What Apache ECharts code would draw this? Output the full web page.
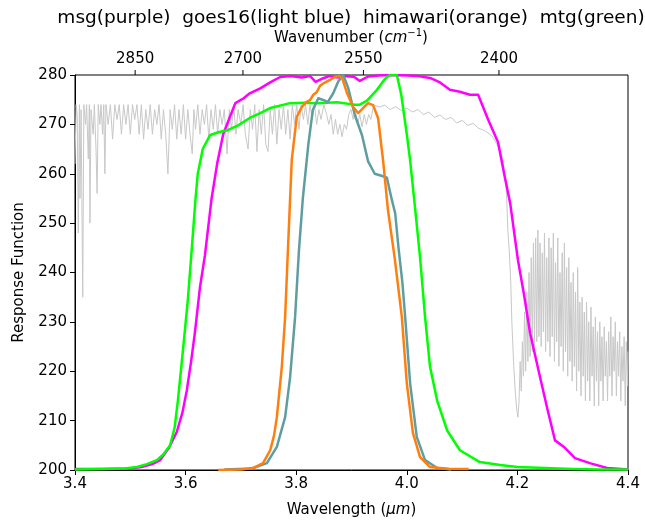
<!DOCTYPE html>
<html><head><meta charset="utf-8">
<script src="https://cdn.jsdelivr.net/npm/echarts@6/dist/echarts.min.js"></script>
<style>html,body{margin:0;padding:0;background:#fff}#c{width:645px;height:524px}</style>
</head><body><div id="c"></div>
<script>
const xTicksMin = 3.4, xTicksMax = 4.4, xInterval = 0.2;
const yMin = 200, yMax = 280, yInterval = 10;
const wavenumberTicks = [2850, 2700, 2550, 2400];
const titleText = 'msg(purple)  goes16(light blue)  himawari(orange)  mtg(green)';

// msg (purple)
const msg = [[3.40,200.2],[3.45,200.2],[3.50,200.3],[3.52,200.6],[3.54,201.2],[3.554,202],[3.57,204.5],[3.584,207.7],[3.594,211.5],[3.602,216],[3.61,222],[3.617,228],[3.626,237],[3.635,243.5],[3.647,255],[3.657,262],[3.668,268],[3.680,271.5],[3.690,274.3],[3.705,275.3],[3.716,276.3],[3.735,277.3],[3.753,278.5],[3.771,279.6],[3.79,279.8],[3.81,279.5],[3.825,279.8],[3.835,278.6],[3.848,279.3],[3.86,279.8],[3.875,279.5],[3.89,279.8],[3.905,279.6],[3.915,278.8],[3.93,279.7],[3.95,279.9],[3.97,280],[4.0,279.9],[4.02,279.8],[4.042,279.4],[4.06,278.5],[4.078,277],[4.096,276.6],[4.114,276],[4.129,276],[4.147,271],[4.165,266.4],[4.176,260],[4.187,254],[4.201,242.5],[4.212,235.5],[4.223,227.7],[4.241,218.8],[4.255,212],[4.268,206],[4.286,204.5],[4.304,202.4],[4.331,201.4],[4.362,200.4],[4.40,200.1]];

// mtg (green)
const mtg = [[3.40,200.1],[3.45,200.2],[3.49,200.3],[3.512,200.6],[3.53,201.2],[3.548,202],[3.56,203.2],[3.572,205],[3.58,208.5],[3.586,214],[3.595,224],[3.604,234.4],[3.612,246],[3.618,255],[3.622,260],[3.631,265],[3.644,267.8],[3.659,268.4],[3.675,268.8],[3.695,269.8],[3.716,271.3],[3.735,272.3],[3.753,273.3],[3.789,274.3],[3.815,274.4],[3.838,274.3],[3.874,274.5],[3.905,274],[3.915,274],[3.928,274.8],[3.946,277],[3.961,279.3],[3.970,280],[3.982,280],[3.990,276],[4.0,268],[4.006,262.7],[4.015,253],[4.024,243],[4.033,231],[4.042,220.9],[4.055,214],[4.073,208],[4.096,204],[4.132,201.6],[4.169,201],[4.2,200.6],[4.25,200.4],[4.3,200.2],[4.35,200.1],[4.40,200.1]];

// goes16 (light blue)
const goes16 = [[3.67,200.1],[3.72,200.3],[3.747,201.4],[3.765,204.7],[3.780,210.7],[3.789,218.8],[3.798,231],[3.805,244.5],[3.812,255],[3.822,266],[3.830,272.9],[3.840,275.3],[3.852,274.8],[3.857,274.5],[3.867,276.3],[3.876,278.7],[3.885,280],[3.894,277.4],[3.906,271.9],[3.919,267.8],[3.930,262.5],[3.942,260],[3.957,259.5],[3.964,259.2],[3.973,254.7],[3.979,252],[3.985,245],[3.992,238],[3.997,231],[4.006,217.6],[4.018,206.7],[4.033,202],[4.055,200.4],[4.08,200.1]];

// himawari (orange)
const himawari = [[3.659,200],[3.70,200.1],[3.722,200.4],[3.740,201.4],[3.753,204],[3.760,207],[3.765,210.7],[3.774,220.9],[3.780,231],[3.785,244.5],[3.792,262.8],[3.801,271.5],[3.810,273.5],[3.818,274.5],[3.825,274.9],[3.831,276],[3.837,276.5],[3.843,277.8],[3.849,278.3],[3.861,279],[3.870,279.6],[3.878,279.8],[3.883,279.4],[3.892,276.3],[3.903,273.5],[3.912,272.3],[3.921,273.3],[3.930,274.3],[3.939,273.9],[3.948,271.3],[3.957,262.8],[3.966,252.6],[3.978,243],[3.991,231],[4.000,217.6],[4.011,207.5],[4.024,202.6],[4.042,200.6],[4.078,200.2],[4.112,200.2]];

// background spectrum (grey)
const spectrum = [[3.400,262],[3.402,274],[3.404,272],[3.406,248],[3.408,274],[3.409,255],[3.411,273],[3.414,235],[3.416,274],[3.419,270],[3.421,274],[3.424,263],[3.426,274],[3.427,250],[3.429,273],[3.433,268],[3.435,274],[3.438,265],[3.440,256],[3.442,274],[3.445,270],[3.447,274],[3.450,268],[3.452,274],[3.454,260],[3.456,274],
[3.460,270],[3.464,274],[3.468,267],[3.472,274],[3.476,271],[3.480,274],[3.484,268],[3.488,274],[3.492,270],[3.496,274],[3.500,268],[3.504,274],[3.508,271],[3.512,274],[3.516,268],[3.520,274],[3.524,267],[3.528,273],[3.532,269],[3.536,274],[3.540,268],[3.544,273],[3.548,270],[3.552,274],[3.556,267],[3.560,273],[3.564,268],[3.568,260],[3.572,273],[3.576,269],[3.580,274],[3.584,267],[3.588,273],[3.592,268],[3.596,274],[3.600,267],[3.604,273],[3.608,268],[3.612,264],[3.615,273],[3.618,269],[3.622,274],[3.626,268],[3.630,273],[3.634,270],[3.638,274],[3.642,267],[3.646,273],[3.650,269],[3.654,274],[3.658,268],[3.662,273],[3.666,270],[3.670,273],[3.675,264],[3.679,273],[3.683,269],[3.687,274],[3.691,268],[3.695,273],[3.700,270],[3.704,274],[3.708,268],[3.713,265],[3.717,273],[3.721,269],[3.725,274],[3.729,264.5],[3.733,273],[3.737,268],[3.741,274],[3.745,266],[3.749,264.5],[3.753,273],[3.757,268],[3.761,274],[3.765,266],[3.769,273],[3.773,269],[3.777,274],[3.781,268],[3.785,273],[3.789,267],[3.793,274],[3.797,270],[3.801,274],[3.805,269],[3.809,274],[3.813,271],[3.817,274],[3.821,270],[3.825,274],[3.829,271],[3.833,274],[3.837,270],[3.841,273],[3.845,271],[3.850,274],
[3.855,272],[3.859,270],[3.863,272],[3.867,268],[3.871,271],[3.875,268],[3.879,270],[3.883,267.5],[3.887,270],[3.891,269],[3.895,272],[3.899,273],[3.903,271],[3.907,273],[3.911,270],[3.915,272],[3.919,269.5],[3.923,272],[3.927,270],[3.931,272],[3.935,271],[3.940,274],
[3.950,273.5],[3.960,273.9],[3.970,273],[3.980,273.6],[3.990,272.8],[4.000,273.3],[4.010,272.5],[4.020,273],[4.030,272],[4.040,272.5],[4.050,271.4],[4.060,271.9],[4.070,271],[4.080,271.4],[4.090,270.3],[4.100,270.8],[4.110,269.8],[4.120,270.2],[4.130,269.2],[4.140,268.8],[4.150,268],[4.156,267.4],[4.165,265.5],[4.174,262.8],[4.180,257],[4.183,248],
[4.185,245],[4.188,238],[4.190,230],[4.193,222],[4.196,216],[4.199,212],[4.201,210.7],[4.203,214],[4.205,222],[4.207,216],[4.209,226],[4.211,219],[4.213,232],[4.215,220],[4.217,236],[4.219,222],[4.221,240],[4.223,223],[4.225,243],[4.227,224],[4.229,246],[4.231,225],[4.233,247],[4.235,226],[4.237,248.6],[4.239,227],[4.241,246],[4.243,225],[4.245,244],[4.247,228],[4.249,248],[4.251,224],[4.253,243],[4.255,226],[4.257,247],[4.259,223],[4.261,245],[4.263,227],[4.265,248],[4.267,222],[4.269,242],[4.271,226],[4.273,247],[4.275,221],[4.277,240],[4.279,225],[4.281,244],[4.283,220],[4.285,246],[4.287,224],[4.289,241],[4.291,219],[4.293,243],[4.295,222],[4.297,238],[4.299,218],[4.301,240],[4.303,221],[4.305,236],[4.307,216],[4.309,241],[4.311,220],[4.313,234],[4.315,215],[4.317,235],[4.319,219],[4.321,232],[4.323,214],[4.325,234],[4.327,218],[4.329,230],[4.331,214],[4.333,233],[4.335,219],[4.337,229],[4.339,213],[4.341,231],[4.343,218],[4.345,228],[4.347,213],[4.349,230],[4.351,218],[4.353,227],[4.355,214],[4.357,229],[4.359,219],[4.361,226],[4.363,214],[4.365,228],[4.367,219],[4.369,231],[4.371,215],[4.373,227],[4.375,220],[4.377,230],[4.379,215],[4.381,226],[4.383,219],[4.385,228],[4.387,214],[4.389,225],[4.391,218],[4.393,227],[4.395,213],[4.397,226],[4.399,217],[4.400,224]];

const FONT = 'DejaVu Sans';
const chart = echarts.init(document.getElementById('c'), null, {renderer: 'canvas'});
const G = {left: 75, right: 17, top: 75, bottom: 54};
const lineS = (name, data, color, w, z) => ({
  name, type: 'line', data, showSymbol: false, symbol: 'none', z,
  lineStyle: {color, width: w, join: 'round'}, itemStyle: {color}, animation: false, silent: true
});

chart.setOption({
  animation: false,
  backgroundColor: '#fff',
  grid: Object.assign({show: true, borderColor: '#000', borderWidth: 1, backgroundColor: 'transparent'}, G),
  graphic: [
    {type: 'text', x: 351, y: 18, style: {text: titleText, font: '18.5px "DejaVu Sans"', fill: '#000', align: 'center', verticalAlign: 'middle'}},
    {type: 'text', x: 351, y: 37, style: {
      text: '{n|Wavenumber (}{i|cm}{s|−1}{n|)}', align: 'center', verticalAlign: 'middle',
      rich: {
        n: {fontFamily: FONT, fontSize: 15, color: '#000', lineHeight: 18, verticalAlign: 'bottom'},
        i: {fontFamily: FONT, fontSize: 15, fontStyle: 'italic', color: '#000', lineHeight: 18, verticalAlign: 'bottom'},
        s: {fontFamily: FONT, fontSize: 10, color: '#000', lineHeight: 18, verticalAlign: 'top'}
      }}}
  ],
  xAxis: [{
    type: 'value', min: xTicksMin, max: xTicksMax, interval: xInterval, position: 'bottom',
    axisLine: {show: true, onZero: false, lineStyle: {color: '#000', width: 1}},
    axisTick: {show: true, inside: false, length: 5, lineStyle: {color: '#000'}},
    axisLabel: {color: '#000', fontFamily: FONT, fontSize: 15, margin: 7, formatter: v => v.toFixed(1)},
    splitLine: {show: false},
    name: '{n|Wavelength (}{i|µm}{n|)}', nameLocation: 'middle', nameGap: 33,
    nameTextStyle: {rich: {
      n: {fontFamily: FONT, fontSize: 15, color: '#000'},
      i: {fontFamily: FONT, fontSize: 15, fontStyle: 'italic', color: '#000'}
    }}
  }],
  yAxis: [{
    type: 'value', min: yMin, max: yMax, interval: yInterval,
    axisLine: {show: true, onZero: false, lineStyle: {color: '#000', width: 1}},
    axisTick: {show: true, inside: false, length: 5, lineStyle: {color: '#000'}},
    axisLabel: {color: '#000', fontFamily: FONT, fontSize: 15, margin: 8},
    splitLine: {show: false},
    name: 'Response Function', nameLocation: 'middle', nameGap: 48, nameRotate: 90,
    nameTextStyle: {color: '#000', fontFamily: FONT, fontSize: 15}
  }],
  series: [
    lineS('spectrum', spectrum, '#c8c8c8', 1, 1),
    lineS('msg', msg, '#ff00ff', 2.5, 2),
    lineS('mtg', mtg, '#00ff00', 2.5, 3),
    lineS('goes16', goes16, '#5f9ea0', 2.5, 4),
    lineS('himawari', himawari, '#ff7f0e', 2.5, 5),
    {
      type: 'custom', name: 'wavenumber axis', clip: false, silent: true, z: 10,
      data: wavenumberTicks.map(w => [10000 / w, yMax, w]),
      renderItem: (params, api) => {
        const p = api.coord([api.value(0), api.value(1)]);
        return {type: 'group', children: [
          {type: 'line', shape: {x1: p[0], y1: p[1], x2: p[0], y2: p[1] - 5}, style: {stroke: '#000', lineWidth: 1}},
          {type: 'text', style: {text: String(api.value(2)), x: p[0], y: p[1] - 8, align: 'center', verticalAlign: 'bottom', font: '15px "DejaVu Sans"', fill: '#000'}}
        ]};
      }
    }
  ]
});
</script></body></html>
